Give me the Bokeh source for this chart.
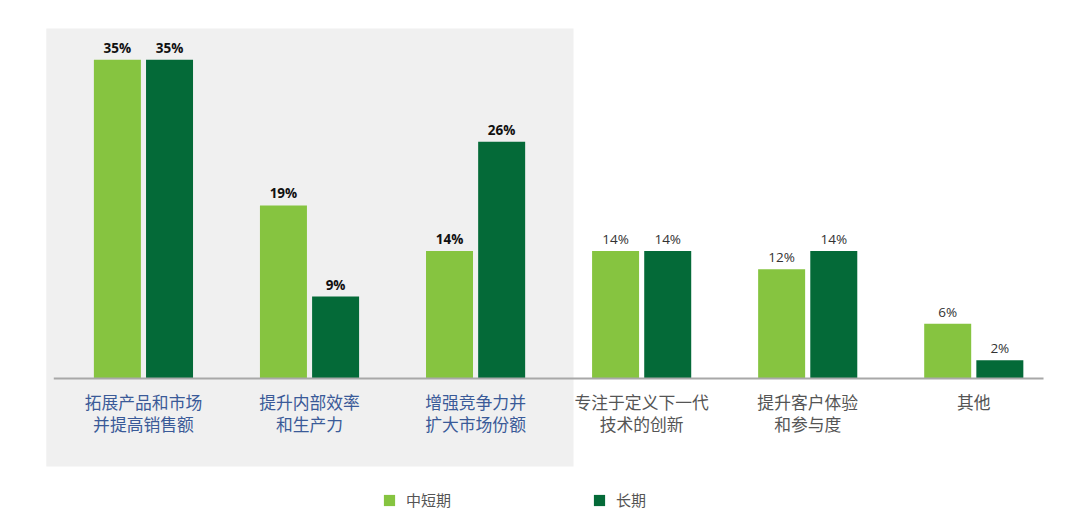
import numpy as np
from bokeh.plotting import figure
from bokeh.models import ColumnDataSource, Range1d, Legend, LegendItem
from bokeh.transform import dodge
from bokeh.core.properties import value
from bokeh.embed import file_html
from bokeh.resources import INLINE

categories = ["拓展产品和市场\n并提高销售额", "提升内部效率\n和生产力", "增强竞争力并\n扩大市场份额",
              "专注于定义下一代\n技术的创新", "提升客户体验\n和参与度", "其他"]
short_mid = [35, 19, 14, 14, 12, 6]
long_term = [35, 9, 26, 14, 14, 2]
series_names = ["中短期", "长期"]
highlighted = [True, True, True, False, False, False]

LIGHT = "#86c440"
DARK = "#046a38"
FONT = "Noto Sans CJK SC"

idx = np.arange(len(categories))
src = ColumnDataSource(dict(
    x=idx, a=short_mid, b=long_term,
    a_lbl=[f"{v}%" for v in short_mid], b_lbl=[f"{v}%" for v in long_term],
    cat=categories,
    cat_color=["#3a5a98" if h else "#555555" for h in highlighted],
    val_color=["#111111" if h else "#333333" for h in highlighted],
    val_style=["bold" if h else "normal" for h in highlighted],
))

p = figure(width=1064, height=522, output_backend="svg", toolbar_location=None,
           x_range=Range1d(-0.62, 5.45), y_range=Range1d(-15.59, 39.74),
           x_axis_location=None, y_axis_location=None,
           min_border_left=40, min_border_right=16, min_border_top=16, min_border_bottom=2)
p.grid.visible = False
p.outline_line_color = None
p.background_fill_color = "white"

# highlighted background panel
n_hi = sum(highlighted)
p.quad(left=[-0.585], right=[n_hi - 0.41], bottom=[-9.66], top=[38.42],
       fill_color="#f0f0f0", line_color=None)

off = 0.157
w = 0.283
r1 = p.vbar(x=dodge("x", -off), top="a", width=w, source=src, fill_color=LIGHT, line_color=None)
r2 = p.vbar(x=dodge("x", off), top="b", width=w, source=src, fill_color=DARK, line_color=None)

# baseline
p.segment(x0=[-0.54], x1=[5.42], y0=[0], y1=[0], line_color="#a8a8a8", line_width=2)

# value labels
for col, o in (("a", -off), ("b", off)):
    p.text(x=dodge("x", o), y=col, text=col + "_lbl", source=src, text_align="center",
           text_baseline="bottom", y_offset=-3, text_font=value("Open Sans"),
           text_font_size="13.5px", text_color="val_color", text_font_style="val_style")

# category labels
p.text(x="x", y=0, text="cat", source=src, text_align="center", text_baseline="top",
       y_offset=12, text_font=value(FONT), text_font_size="16.8px", text_color="cat_color",
       text_line_height=0.88)

legend = Legend(items=[LegendItem(label=series_names[0], renderers=[r1]),
                       LegendItem(label=series_names[1], renderers=[r2])],
                orientation="horizontal", location=(342, 10), spacing=141,
                glyph_width=14, glyph_height=14, label_standoff=10, padding=0, margin=0,
                border_line_color=None, background_fill_alpha=0,
                label_text_font=FONT, label_text_font_size="15px", label_text_color="#555555")
p.add_layout(legend)

open("out.html", "w").write(file_html(p, INLINE))
